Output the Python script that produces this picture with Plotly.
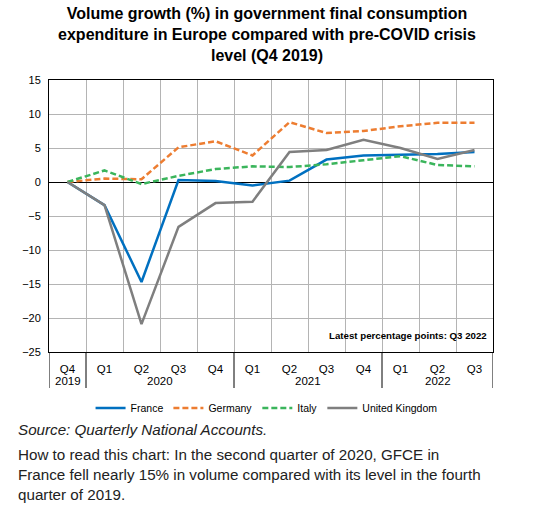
import plotly.graph_objects as go

years = ["2019", "2020", "2020", "2020", "2020", "2021", "2021", "2021", "2021", "2022", "2022", "2022"]
quarters = ["Q4", "Q1", "Q2", "Q3", "Q4", "Q1", "Q2", "Q3", "Q4", "Q1", "Q2", "Q3"]
periods = [f"{q} {y}" for q, y in zip(quarters, years)]

france = [0, -3.4, -14.7, 0.3, 0.15, -0.5, 0.2, 3.3, 3.9, 4.0, 4.1, 4.4]
germany = [0, 0.5, 0.4, 5.1, 6.0, 3.9, 8.8, 7.2, 7.5, 8.2, 8.7, 8.7]
italy = [0, 1.7, -0.3, 0.9, 1.9, 2.3, 2.2, 2.6, 3.2, 3.8, 2.5, 2.3]
uk = [0, -3.4, -20.9, -6.6, -3.1, -2.9, 4.4, 4.7, 6.2, 5.0, 3.4, 4.7]

series = [
    ("France", france, "#0070C0", "solid"),
    ("Germany", germany, "#ED7D31", "6px,3px"),
    ("Italy", italy, "#3BB55C", "6px,3px"),
    ("United Kingdom", uk, "#7F7F7F", "solid"),
]

FONT = "Arial, 'Liberation Sans', sans-serif"
PLOT_H = 272.0  # plot-area height in px (used to place text below axis)

fig = go.Figure()
for name, vals, color, dash in series:
    fig.add_trace(go.Scatter(
        x=periods, y=vals, name=name, mode="lines",
        line=dict(color=color, width=2.5, dash=dash),
    ))

fig.update_layout(
    width=534, height=510,
    margin=dict(l=49, r=41, t=80, b=158),
    paper_bgcolor="white", plot_bgcolor="white",
    font=dict(family=FONT, size=11, color="black"),
    title=dict(
        text="<b>Volume growth (%) in government final consumption<br>expenditure in Europe compared with pre-COVID crisis<br>level (Q4 2019)</b>",
        x=0.5, xanchor="center", y=0.962, yanchor="top",
        font=dict(family=FONT, size=16, color="black"),
    ),
    showlegend=True,
    legend=dict(orientation="h", x=0.49, xanchor="center", y=-0.206, yanchor="middle",
                font=dict(family=FONT, size=10.5), itemwidth=30, tracegroupgap=0),
)

fig.update_xaxes(
    type="category", categoryorder="array", categoryarray=periods,
    tickvals=periods, ticktext=quarters,
    range=[-0.5, len(periods) - 0.5],
    showline=True, mirror=True, linecolor="black", linewidth=1,
    showgrid=True, gridcolor="#B4B4B4", gridwidth=1,
    tickson="boundaries", ticks="", ticklen=0, ticklabelstandoff=6,
    tickfont=dict(family=FONT, size=11.5),
)
fig.update_yaxes(
    range=[-25, 15], dtick=5, tick0=0,
    showline=True, mirror=True, linecolor="black", linewidth=1,
    showgrid=True, gridcolor="#B4B4B4", gridwidth=1,
    zeroline=True, zerolinecolor="black", zerolinewidth=1,
    ticks="", ticklabelstandoff=5, tickfont=dict(family=FONT, size=11),
)

# year group labels and dividers below the axis
groups = []
for i, y in enumerate(years):
    if groups and groups[-1][0] == y:
        groups[-1][2] = i
    else:
        groups.append([y, i, i])
y_year = -(381 - 352) / PLOT_H
y_div = -(388 - 352) / PLOT_H
for y, a, b in groups:
    fig.add_annotation(text=y, xref="x", yref="paper", x=(a + b) / 2, y=y_year,
                       showarrow=False, yanchor="middle", font=dict(family=FONT, size=11.5))
bounds = [-0.5] + [b + 0.5 for _, _, b in groups]
for xb in bounds:
    fig.add_shape(type="line", xref="x", yref="paper", x0=xb, x1=xb, y0=0, y1=y_div,
                  line=dict(color="black", width=1))

fig.add_annotation(
    text="<b>Latest percentage points: Q3 2022</b>",
    xref="paper", yref="paper", x=0.99, y=0.06, xanchor="right", yanchor="middle",
    showarrow=False, font=dict(family=FONT, size=9.7, color="black"),
)
fig.add_annotation(
    text="<i>Source: Quarterly National Accounts.</i>",
    xref="paper", yref="paper", x=-33 / 444, y=-(429 - 352) / PLOT_H, xanchor="left", yanchor="middle",
    showarrow=False, font=dict(family=FONT, size=15.2, color="#222222"),
)
fig.add_annotation(
    text="How to read this chart: In the second quarter of 2020, GFCE in<br>France fell nearly 15% in volume compared with its level in the fourth<br>quarter of 2019.",
    xref="paper", yref="paper", x=-33 / 444, y=-(444 - 352) / PLOT_H, xanchor="left", yanchor="top",
    align="left", showarrow=False, font=dict(family=FONT, size=15.2, color="#222222"),
)

fig.write_html("out.html", config={"displayModeBar": False},
               post_script="document.body.style.margin='0';")
